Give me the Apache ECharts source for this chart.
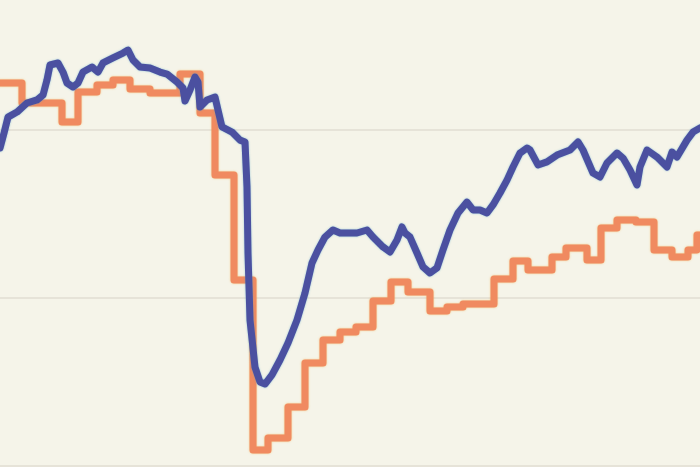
<!DOCTYPE html>
<html>
<head>
<meta charset="utf-8">
<script src="https://cdn.jsdelivr.net/npm/echarts@6/dist/echarts.min.js"></script>
<style>
html,body{margin:0;padding:0;background:#f5f4e9;}
#chart{width:700px;height:467px;}
</style>
</head>
<body>
<div id="chart"></div>
<script>
// Orange step series: x positions where the level changes, and the level from there on
const orangeX = [0,22,62,78,97,113,130,150,180,200,215,234,253,268,288,305,323,340,356,373,391,408,430,447,463,494,513,528,552,566,587,601,617,636,654,672,688,697,700];
const orangeY = [12.80,11.61,10.48,12.26,12.68,12.98,12.44,12.20,13.33,11.01,7.32,1.07,-9.05,-8.33,-6.49,-3.87,-2.50,-2.02,-1.73,-0.18,0.95,0.36,-0.77,-0.54,-0.36,1.13,2.20,1.67,2.44,2.98,2.26,4.17,4.64,4.52,2.86,2.44,2.86,3.75,3.75];

// Blue series
const blueX = [0,4,8,17,27,37,43,47,50,58,63,67,73,78,83,92,98,103,113,123,128,133,140,150,160,167,177,183,185,190,195,198,200,207,215,218,222,232,240,245,247,248,250,255,260,265,272,280,288,297,305,312,318,325,333,340,347,357,367,373,383,390,397,402,405,410,417,423,430,437,443,450,458,467,473,480,487,493,500,507,513,520,527,530,538,547,557,570,578,583,593,600,607,617,623,630,637,640,647,657,667,672,677,687,693,700];
const blueY = [8.93,9.82,10.77,11.07,11.61,11.79,12.08,12.98,13.87,13.99,13.45,12.80,12.56,12.80,13.45,13.75,13.45,13.99,14.29,14.58,14.76,14.17,13.75,13.69,13.45,13.33,12.86,12.50,11.73,12.38,13.15,12.86,11.37,11.79,11.96,11.19,10.18,9.88,9.40,9.29,6.61,2.68,-1.31,-4.11,-5.00,-5.12,-4.58,-3.69,-2.68,-1.31,0.30,2.08,2.86,3.63,4.05,3.87,3.87,3.87,4.05,3.63,3.04,2.74,3.45,4.23,3.87,3.63,2.68,1.85,1.49,1.79,2.86,4.05,5.06,5.71,5.24,5.24,5.06,5.54,6.25,7.02,7.80,8.63,8.93,8.81,7.92,8.10,8.51,8.81,9.29,8.81,7.44,7.20,8.04,8.63,8.33,7.62,6.73,7.80,8.81,8.39,7.80,8.69,8.39,9.40,9.88,10.12];

// Visible value range (gridlines every 10 from the minimum)
const yMin = -10;
const yMax = 17.74;

const orangeData = orangeX.map((x, i) => [x, orangeY[i]]);
const blueData = blueX.map((x, i) => [x, blueY[i]]);

const chart = echarts.init(document.getElementById('chart'), null, {renderer: 'canvas'});
chart.setOption({
  backgroundColor: '#f5f4e9',
  animation: false,
  grid: {left: 0, right: 0, top: 0, bottom: 1, containLabel: false},
  xAxis: {
    type: 'value', min: 0, max: 700,
    axisLine: {show: false}, axisTick: {show: false}, axisLabel: {show: false},
    splitLine: {show: false}
  },
  yAxis: {
    type: 'value', min: yMin, max: yMax, interval: 10,
    axisLine: {show: false}, axisTick: {show: false}, axisLabel: {show: false},
    splitLine: {show: true, showMaxLine: false, lineStyle: {color: '#e6e3d8', width: 2}}
  },
  series: [
    {
      type: 'line', step: 'end', data: orangeData, showSymbol: false,
      lineStyle: {color: '#f08a60', width: 7, cap: 'round', join: 'round',
        shadowColor: 'rgba(240,170,60,0.6)', shadowBlur: 2}
    },
    {
      type: 'line', data: blueData, showSymbol: false,
      lineStyle: {color: '#4b50a0', width: 7, cap: 'round', join: 'round',
        shadowColor: 'rgba(70,160,200,0.6)', shadowBlur: 2}
    }
  ]
});
</script>
</body>
</html>
